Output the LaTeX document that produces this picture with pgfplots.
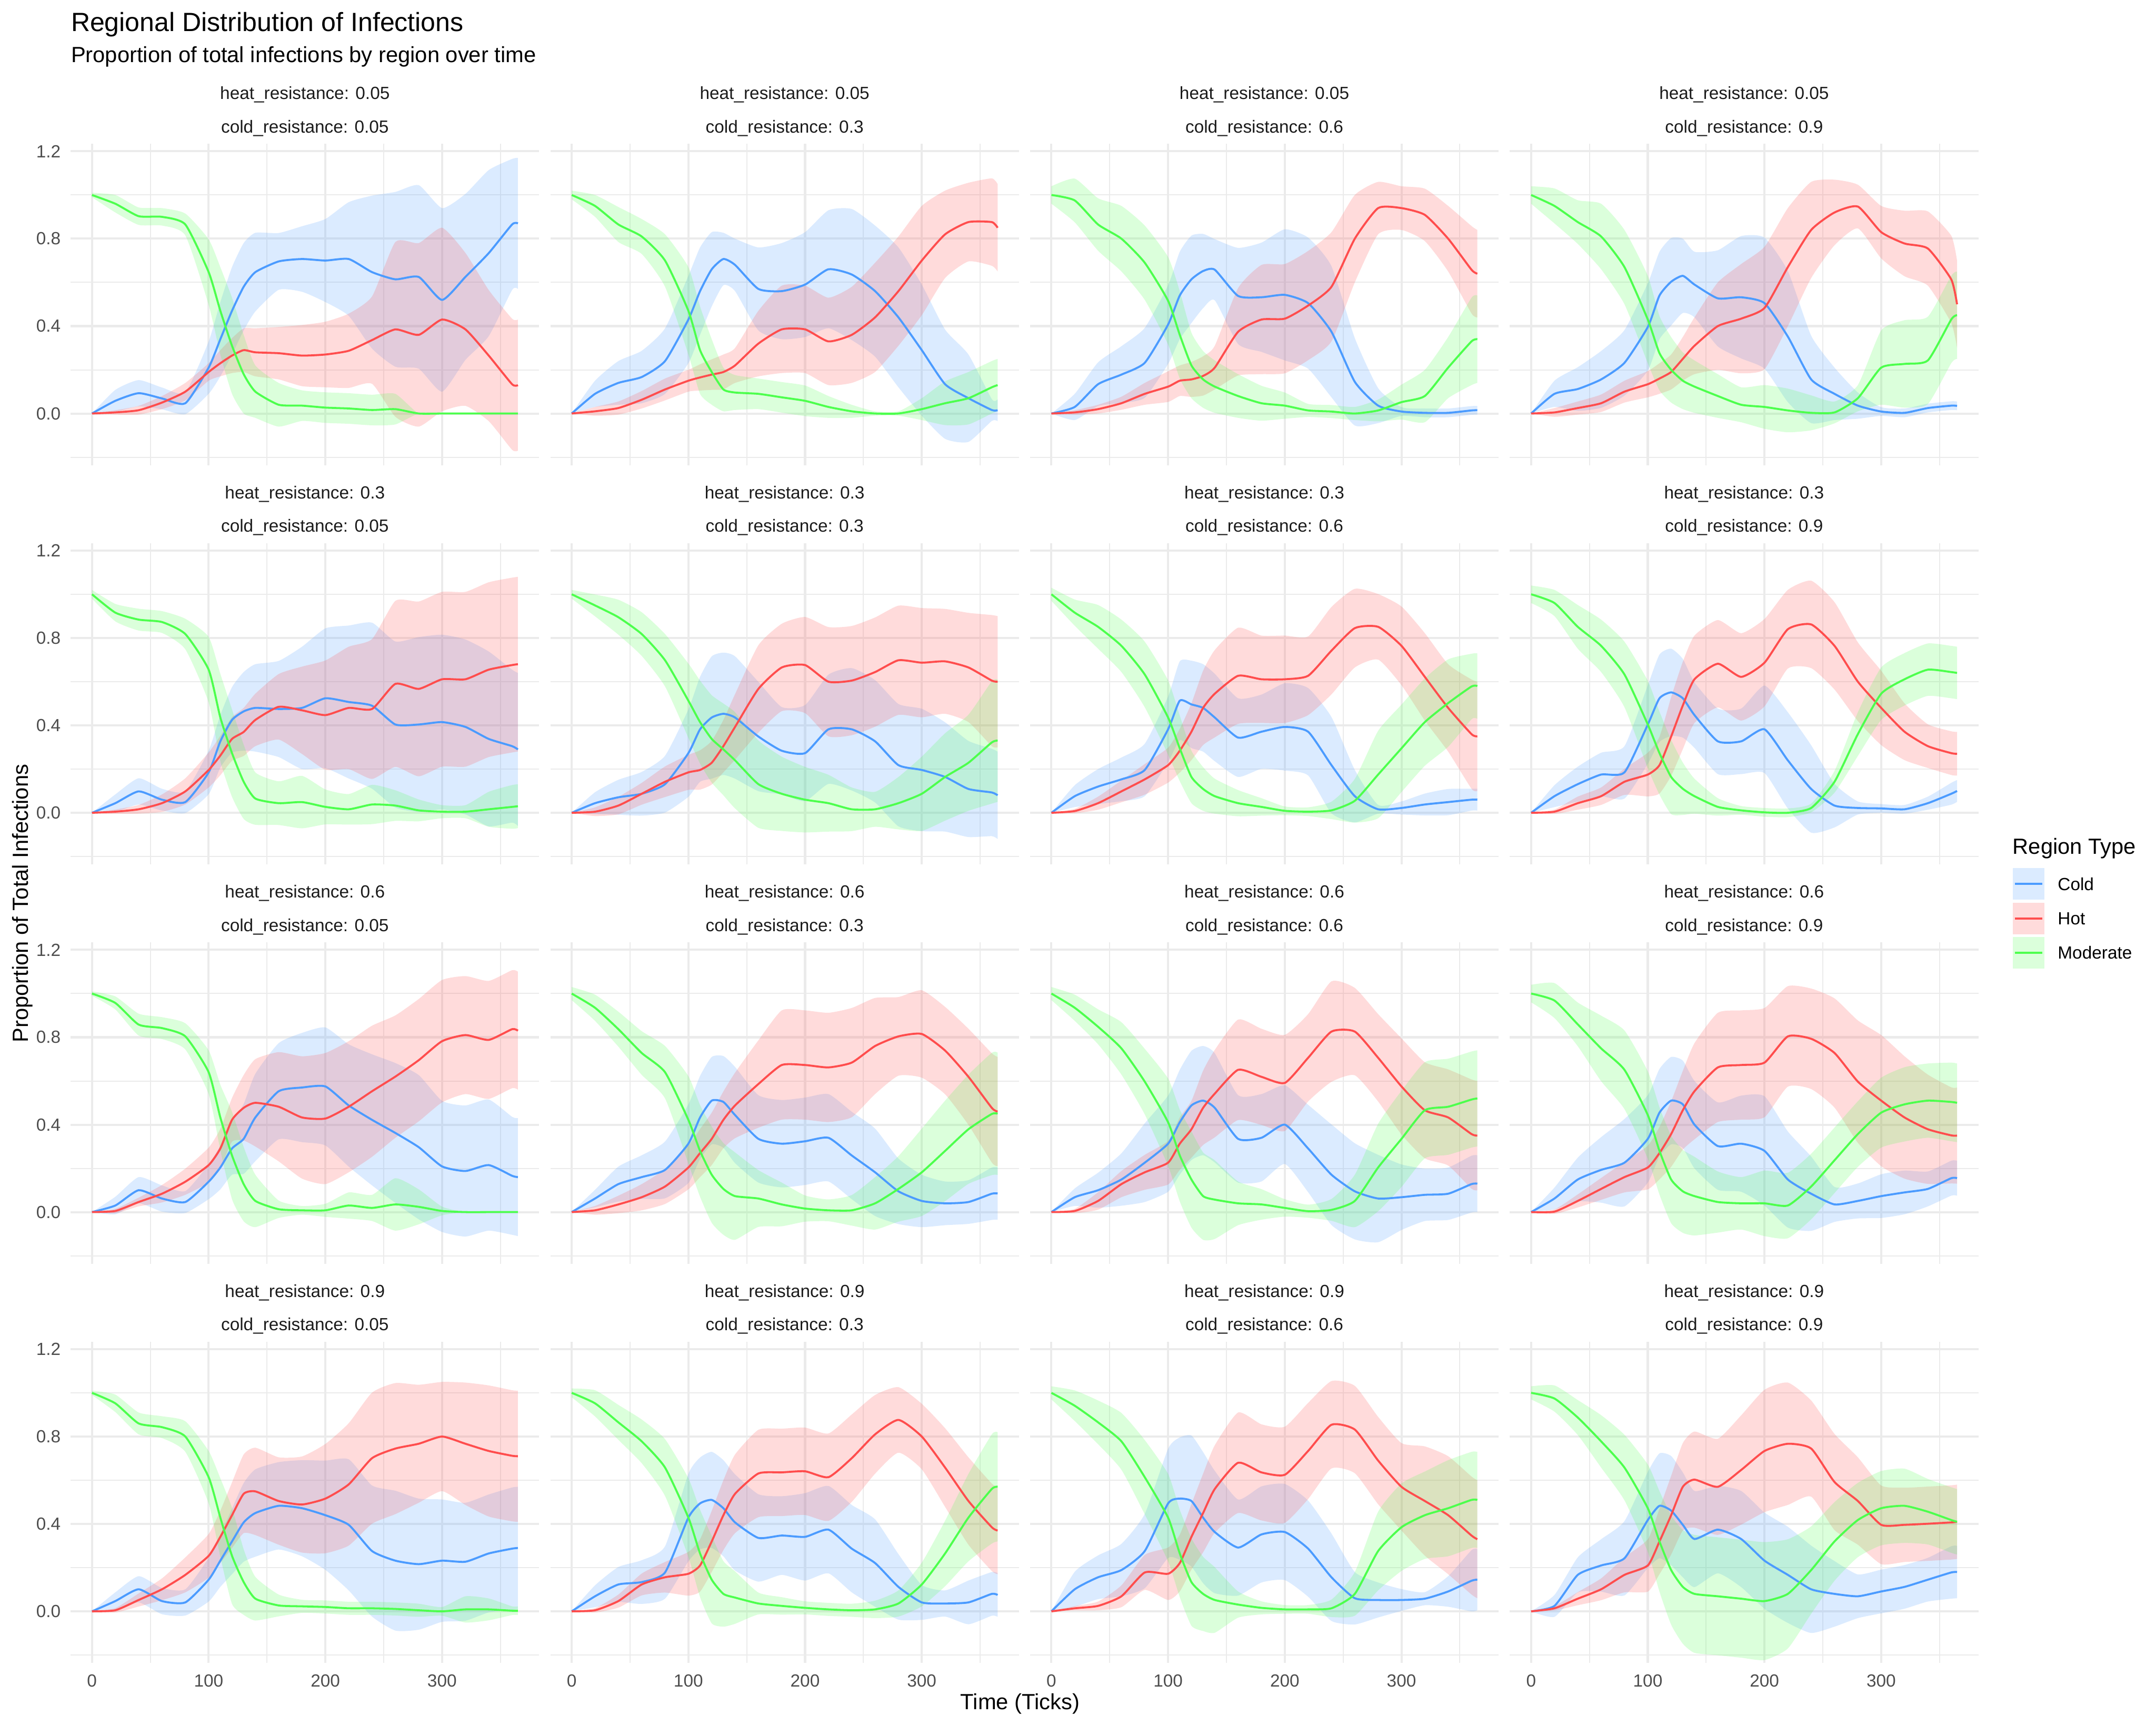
\documentclass[border=0pt]{standalone}
\usepackage{fontspec}
\setmainfont{Liberation Sans}
\usepackage{pgfplots}
\pgfplotsset{compat=1.18}
\usepackage{pgfplotstable}
\usepgfplotslibrary{fillbetween}

\definecolor{cold}{HTML}{4B9BFF}
\definecolor{hot}{HTML}{FF4D4D}
\definecolor{moderate}{HTML}{4DFF4D}
\definecolor{gridc}{HTML}{EBEBEB}
\definecolor{tickc}{HTML}{4D4D4D}
\definecolor{stripc}{HTML}{1A1A1A}

% columns: t, Cold mean, Cold half-width, Hot mean, Hot half-width, Moderate mean, Moderate half-width
\pgfplotstableread{
t c cs h hs m ms
0 0 0 0 0 1 0.01
20 0.058 0.05 0.005 0.01 0.96 0.04
40 0.093 0.06 0.015 0.02 0.903 0.04
60 0.069 0.05 0.05 0.03 0.9 0.04
80 0.047 0.05 0.1 0.04 0.865 0.05
100 0.21 0.12 0.19 0.04 0.647 0.15
110 0.34 0.17 0.23 0.06 0.47 0.2
120 0.47 0.2 0.265 0.08 0.31 0.22
130 0.58 0.2 0.29 0.1 0.18 0.18
140 0.647 0.18 0.28 0.11 0.1 0.12
160 0.696 0.13 0.276 0.12 0.04 0.1
180 0.707 0.15 0.265 0.14 0.036 0.07
200 0.7 0.19 0.27 0.15 0.027 0.07
220 0.707 0.26 0.287 0.17 0.023 0.07
240 0.647 0.35 0.336 0.2 0.016 0.07
260 0.614 0.4 0.385 0.4 0.02 0.07
280 0.625 0.42 0.36 0.42 0 0
300 0.52 0.42 0.43 0.42 0 0
320 0.625 0.38 0.385 0.35 0 0
340 0.734 0.38 0.265 0.3 0 0
360 0.865 0.3 0.134 0.3 0 0
365 0.87 0.3 0.13 0.3 0 0
}\tAA
\pgfplotstableread{
t c cs h hs m ms
0 0 0 0 0 1 0.02
20 0.09 0.06 0.01 0.02 0.95 0.05
40 0.14 0.1 0.025 0.03 0.865 0.08
60 0.167 0.12 0.063 0.04 0.81 0.08
80 0.24 0.15 0.11 0.05 0.7 0.12
100 0.43 0.2 0.15 0.05 0.47 0.2
110 0.56 0.2 0.165 0.06 0.29 0.2
120 0.66 0.17 0.178 0.07 0.19 0.15
130 0.707 0.12 0.19 0.08 0.11 0.1
140 0.68 0.12 0.22 0.08 0.096 0.08
160 0.57 0.19 0.32 0.15 0.09 0.07
180 0.56 0.22 0.385 0.2 0.074 0.07
200 0.59 0.24 0.385 0.2 0.058 0.07
220 0.66 0.27 0.33 0.2 0.03 0.05
240 0.636 0.3 0.36 0.22 0.01 0.03
260 0.56 0.3 0.44 0.25 0 0.01
280 0.44 0.32 0.56 0.25 0 0.01
300 0.29 0.3 0.7 0.25 0.02 0.05
320 0.134 0.25 0.82 0.2 0.047 0.1
340 0.07 0.2 0.876 0.18 0.07 0.12
360 0.016 0.05 0.876 0.2 0.12 0.12
365 0.015 0.05 0.85 0.2 0.13 0.12
}\tAB
\pgfplotstableread{
t c cs h hs m ms
0 0 0 0 0 1 0.04
20 0.03 0.06 0.005 0.01 0.975 0.1
40 0.134 0.1 0.02 0.02 0.865 0.12
60 0.178 0.13 0.047 0.03 0.8 0.15
80 0.232 0.16 0.09 0.05 0.69 0.17
100 0.407 0.18 0.123 0.07 0.516 0.2
110 0.54 0.2 0.15 0.07 0.36 0.2
120 0.614 0.2 0.156 0.08 0.22 0.15
130 0.652 0.17 0.172 0.09 0.156 0.13
140 0.658 0.14 0.21 0.1 0.123 0.12
160 0.538 0.22 0.374 0.2 0.08 0.1
180 0.532 0.25 0.43 0.25 0.047 0.08
200 0.543 0.3 0.434 0.25 0.036 0.06
220 0.505 0.3 0.494 0.25 0.014 0.03
240 0.374 0.3 0.58 0.25 0.009 0.03
260 0.145 0.2 0.8 0.2 0 0.03
280 0.036 0.08 0.94 0.12 0.014 0.05
300 0.009 0.02 0.94 0.1 0.052 0.08
320 0.003 0.02 0.909 0.12 0.08 0.12
340 0.003 0.02 0.8 0.15 0.21 0.14
360 0.014 0.02 0.658 0.2 0.33 0.2
365 0.015 0.02 0.64 0.2 0.34 0.2
}\tAC
\pgfplotstableread{
t c cs h hs m ms
0 0 0 0 0 1 0.04
20 0.09 0.06 0.005 0.02 0.95 0.08
40 0.112 0.1 0.025 0.03 0.876 0.1
60 0.156 0.13 0.047 0.04 0.81 0.15
80 0.232 0.15 0.1 0.05 0.67 0.17
100 0.396 0.2 0.134 0.06 0.43 0.2
110 0.54 0.2 0.16 0.07 0.276 0.17
120 0.603 0.2 0.19 0.08 0.2 0.15
130 0.63 0.17 0.25 0.1 0.15 0.13
140 0.59 0.15 0.31 0.13 0.123 0.12
160 0.527 0.22 0.4 0.2 0.08 0.1
180 0.532 0.28 0.434 0.25 0.04 0.08
200 0.505 0.3 0.483 0.28 0.03 0.1
220 0.352 0.3 0.67 0.27 0.014 0.1
240 0.156 0.2 0.84 0.22 0.003 0.08
260 0.09 0.12 0.92 0.15 0.005 0.05
280 0.036 0.06 0.947 0.1 0.07 0.06
300 0.009 0.02 0.83 0.12 0.21 0.17
320 0.003 0.02 0.778 0.15 0.227 0.2
340 0.025 0.02 0.755 0.17 0.243 0.2
360 0.036 0.02 0.614 0.2 0.43 0.2
365 0.035 0.02 0.5 0.2 0.45 0.2
}\tAD
\pgfplotstableread{
t c cs h hs m ms
0 0 0 0 0 1 0.02
20 0.044 0.04 0.005 0.01 0.916 0.04
40 0.098 0.06 0.016 0.02 0.884 0.05
60 0.06 0.05 0.044 0.04 0.873 0.05
80 0.049 0.05 0.098 0.06 0.818 0.07
100 0.185 0.1 0.196 0.08 0.655 0.15
110 0.327 0.12 0.262 0.09 0.436 0.2
120 0.425 0.15 0.338 0.1 0.273 0.2
130 0.464 0.18 0.37 0.11 0.142 0.17
140 0.48 0.2 0.425 0.12 0.065 0.12
160 0.475 0.22 0.485 0.15 0.044 0.1
180 0.48 0.28 0.469 0.2 0.049 0.12
200 0.524 0.32 0.447 0.25 0.027 0.08
220 0.507 0.35 0.48 0.28 0.016 0.07
240 0.49 0.38 0.475 0.32 0.038 0.09
260 0.404 0.38 0.59 0.38 0.033 0.07
280 0.404 0.4 0.567 0.4 0.011 0.05
300 0.415 0.4 0.611 0.4 0.005 0.03
320 0.393 0.4 0.611 0.4 0.005 0.03
340 0.338 0.4 0.655 0.4 0.016 0.08
360 0.305 0.35 0.676 0.4 0.027 0.1
365 0.29 0.35 0.68 0.4 0.03 0.1
}\tBA
\pgfplotstableread{
t c cs h hs m ms
0 0 0 0 0 1 0.02
20 0.044 0.05 0.005 0.02 0.949 0.05
40 0.071 0.08 0.033 0.04 0.895 0.08
60 0.087 0.1 0.087 0.05 0.818 0.1
80 0.131 0.13 0.142 0.07 0.698 0.12
100 0.273 0.2 0.185 0.08 0.513 0.17
110 0.382 0.24 0.196 0.09 0.415 0.19
120 0.436 0.28 0.229 0.1 0.338 0.2
130 0.453 0.28 0.305 0.12 0.29 0.21
140 0.436 0.28 0.393 0.15 0.24 0.22
160 0.349 0.25 0.567 0.2 0.131 0.2
180 0.284 0.2 0.665 0.2 0.087 0.17
200 0.273 0.22 0.676 0.22 0.06 0.15
220 0.382 0.25 0.6 0.25 0.044 0.13
240 0.382 0.28 0.605 0.25 0.016 0.1
260 0.327 0.28 0.644 0.25 0.016 0.08
280 0.218 0.28 0.698 0.25 0.044 0.12
300 0.196 0.28 0.687 0.25 0.087 0.17
320 0.164 0.25 0.693 0.24 0.164 0.2
340 0.109 0.22 0.665 0.25 0.229 0.22
360 0.093 0.2 0.605 0.3 0.322 0.28
365 0.08 0.2 0.6 0.3 0.33 0.28
}\tBB
\pgfplotstableread{
t c cs h hs m ms
0 0 0 0 0 1 0.03
20 0.076 0.05 0.008 0.01 0.916 0.06
40 0.12 0.08 0.044 0.03 0.851 0.1
60 0.153 0.1 0.098 0.05 0.764 0.12
80 0.196 0.12 0.153 0.07 0.633 0.15
100 0.382 0.15 0.218 0.08 0.436 0.17
110 0.513 0.18 0.284 0.1 0.295 0.15
120 0.496 0.2 0.371 0.13 0.164 0.12
130 0.48 0.2 0.48 0.17 0.109 0.1
140 0.436 0.2 0.545 0.2 0.076 0.08
160 0.344 0.18 0.627 0.22 0.044 0.06
180 0.371 0.17 0.611 0.2 0.027 0.04
200 0.393 0.2 0.611 0.2 0.009 0.02
220 0.371 0.2 0.627 0.18 0.005 0.02
240 0.218 0.22 0.742 0.2 0.011 0.04
260 0.076 0.12 0.845 0.18 0.055 0.1
280 0.016 0.02 0.851 0.15 0.175 0.2
300 0.022 0.03 0.764 0.18 0.295 0.2
320 0.038 0.05 0.622 0.2 0.415 0.2
340 0.049 0.06 0.48 0.2 0.502 0.2
360 0.06 0.05 0.36 0.25 0.578 0.15
365 0.06 0.05 0.35 0.25 0.58 0.15
}\tBC
\pgfplotstableread{
t c cs h hs m ms
0 0 0 0 0 1 0.04
20 0.076 0.05 0.005 0.01 0.96 0.06
40 0.131 0.08 0.044 0.03 0.851 0.1
60 0.175 0.1 0.076 0.04 0.764 0.12
80 0.185 0.12 0.142 0.06 0.633 0.15
100 0.404 0.18 0.175 0.1 0.404 0.2
110 0.524 0.2 0.218 0.13 0.273 0.19
120 0.551 0.2 0.349 0.18 0.164 0.17
130 0.524 0.18 0.491 0.2 0.11 0.12
140 0.447 0.15 0.611 0.2 0.076 0.08
160 0.327 0.15 0.682 0.2 0.027 0.04
180 0.327 0.15 0.622 0.2 0.011 0.02
200 0.382 0.2 0.687 0.2 0.002 0.02
220 0.24 0.22 0.84 0.18 0 0.02
240 0.109 0.2 0.862 0.2 0.022 0.02
260 0.033 0.1 0.764 0.2 0.142 0.05
280 0.022 0.03 0.6 0.18 0.36 0.1
300 0.02 0.02 0.48 0.17 0.545 0.12
320 0.016 0.02 0.371 0.13 0.611 0.12
340 0.044 0.03 0.305 0.1 0.655 0.12
360 0.087 0.05 0.273 0.1 0.644 0.12
365 0.1 0.05 0.27 0.1 0.64 0.12
}\tBD
\pgfplotstableread{
t c cs h hs m ms
0 0 0 0 0 1 0.01
20 0.03 0.04 0.005 0.01 0.957 0.03
40 0.1 0.06 0.046 0.02 0.858 0.05
60 0.062 0.06 0.084 0.04 0.842 0.05
80 0.046 0.05 0.139 0.06 0.804 0.06
100 0.139 0.08 0.215 0.08 0.64 0.1
110 0.204 0.1 0.291 0.09 0.433 0.15
120 0.291 0.12 0.422 0.1 0.259 0.2
130 0.335 0.16 0.477 0.15 0.128 0.17
140 0.433 0.2 0.5 0.2 0.051 0.12
160 0.553 0.22 0.482 0.25 0.013 0.04
180 0.57 0.25 0.433 0.28 0.008 0.02
200 0.575 0.27 0.428 0.3 0.008 0.03
220 0.488 0.28 0.482 0.3 0.03 0.06
240 0.422 0.3 0.553 0.3 0.019 0.06
260 0.362 0.32 0.62 0.28 0.035 0.12
280 0.297 0.33 0.695 0.28 0.024 0.08
300 0.209 0.3 0.782 0.28 0.005 0.02
320 0.188 0.3 0.81 0.27 0 0
340 0.215 0.3 0.788 0.27 0 0
360 0.166 0.27 0.837 0.27 0 0
365 0.16 0.27 0.83 0.27 0 0
}\tCA
\pgfplotstableread{
t c cs h hs m ms
0 0 0 0 0 1 0.03
20 0.062 0.04 0.008 0.02 0.935 0.06
40 0.128 0.08 0.035 0.04 0.837 0.08
60 0.16 0.1 0.068 0.06 0.728 0.1
80 0.193 0.13 0.117 0.08 0.64 0.12
100 0.313 0.18 0.204 0.1 0.422 0.2
110 0.433 0.19 0.27 0.11 0.28 0.21
120 0.51 0.2 0.335 0.12 0.171 0.22
130 0.504 0.21 0.422 0.13 0.106 0.21
140 0.444 0.22 0.488 0.15 0.073 0.2
160 0.335 0.2 0.586 0.2 0.062 0.13
180 0.313 0.2 0.673 0.25 0.035 0.1
200 0.324 0.2 0.673 0.25 0.016 0.06
220 0.34 0.2 0.662 0.25 0.008 0.05
240 0.259 0.2 0.684 0.25 0.008 0.07
260 0.182 0.2 0.76 0.22 0.04 0.12
280 0.095 0.15 0.804 0.18 0.106 0.15
300 0.051 0.12 0.815 0.2 0.182 0.2
320 0.04 0.1 0.739 0.2 0.28 0.23
340 0.046 0.1 0.619 0.22 0.379 0.25
360 0.084 0.12 0.477 0.25 0.449 0.28
365 0.085 0.12 0.46 0.25 0.45 0.28
}\tCB
\pgfplotstableread{
t c cs h hs m ms
0 0 0 0 0 1 0.03
20 0.068 0.04 0.005 0.01 0.935 0.06
40 0.1 0.08 0.051 0.04 0.848 0.08
60 0.149 0.12 0.128 0.06 0.749 0.12
80 0.226 0.18 0.182 0.08 0.597 0.15
100 0.313 0.22 0.226 0.1 0.411 0.2
110 0.411 0.24 0.313 0.12 0.259 0.21
120 0.488 0.25 0.379 0.13 0.149 0.22
130 0.51 0.25 0.477 0.17 0.073 0.2
140 0.477 0.25 0.542 0.2 0.057 0.18
160 0.335 0.2 0.651 0.23 0.04 0.1
180 0.34 0.2 0.619 0.22 0.035 0.07
200 0.4 0.18 0.591 0.22 0.019 0.04
220 0.291 0.2 0.706 0.2 0.004 0.03
240 0.171 0.23 0.826 0.23 0.01 0.05
260 0.095 0.22 0.826 0.2 0.051 0.12
280 0.062 0.2 0.706 0.2 0.204 0.2
300 0.068 0.15 0.575 0.22 0.335 0.22
320 0.079 0.12 0.466 0.22 0.466 0.22
340 0.084 0.12 0.433 0.22 0.482 0.22
360 0.128 0.13 0.357 0.25 0.515 0.22
365 0.13 0.13 0.35 0.25 0.52 0.22
}\tCC
\pgfplotstableread{
t c cs h hs m ms
0 0 0 0 0 1 0.04
20 0.062 0.05 0.002 0.01 0.968 0.08
40 0.149 0.1 0.051 0.03 0.859 0.1
60 0.193 0.15 0.106 0.05 0.749 0.15
80 0.226 0.2 0.16 0.07 0.651 0.18
100 0.335 0.2 0.204 0.1 0.444 0.2
110 0.455 0.2 0.27 0.12 0.28 0.2
120 0.51 0.2 0.357 0.15 0.149 0.2
130 0.493 0.2 0.466 0.18 0.095 0.19
140 0.4 0.2 0.553 0.22 0.073 0.18
160 0.302 0.2 0.662 0.25 0.046 0.14
180 0.313 0.22 0.673 0.25 0.04 0.12
200 0.28 0.25 0.684 0.25 0.04 0.15
220 0.149 0.22 0.804 0.23 0.03 0.15
240 0.084 0.17 0.793 0.23 0.117 0.15
260 0.035 0.08 0.728 0.25 0.237 0.15
280 0.051 0.08 0.597 0.28 0.357 0.15
300 0.073 0.1 0.51 0.3 0.455 0.16
320 0.09 0.1 0.433 0.28 0.493 0.17
340 0.106 0.08 0.379 0.25 0.51 0.17
360 0.155 0.08 0.351 0.22 0.504 0.18
365 0.155 0.08 0.35 0.22 0.5 0.18
}\tCD
\pgfplotstableread{
t c cs h hs m ms
0 0 0 0 0 1 0.01
20 0.047 0.04 0.005 0.01 0.952 0.04
40 0.101 0.06 0.052 0.03 0.86 0.05
60 0.047 0.06 0.101 0.05 0.843 0.05
80 0.041 0.06 0.167 0.08 0.8 0.07
100 0.145 0.1 0.254 0.1 0.614 0.12
110 0.232 0.12 0.341 0.12 0.429 0.18
120 0.32 0.15 0.44 0.15 0.254 0.22
130 0.407 0.18 0.538 0.18 0.134 0.15
140 0.45 0.2 0.549 0.2 0.058 0.1
160 0.483 0.2 0.505 0.2 0.027 0.05
180 0.472 0.22 0.489 0.22 0.023 0.03
200 0.44 0.25 0.516 0.25 0.02 0.03
220 0.396 0.3 0.581 0.28 0.014 0.03
240 0.276 0.3 0.701 0.3 0.014 0.03
260 0.232 0.32 0.745 0.3 0.011 0.03
280 0.216 0.3 0.767 0.27 0.005 0.03
300 0.232 0.28 0.8 0.25 0 0.02
320 0.227 0.27 0.767 0.28 0.009 0.06
340 0.265 0.27 0.734 0.3 0.009 0.05
360 0.287 0.28 0.712 0.3 0.003 0.02
365 0.29 0.28 0.71 0.3 0.003 0.02
}\tDA
\pgfplotstableread{
t c cs h hs m ms
0 0 0 0 0 1 0.02
20 0.069 0.05 0.005 0.01 0.952 0.06
40 0.123 0.08 0.047 0.03 0.865 0.08
60 0.134 0.1 0.123 0.05 0.778 0.1
80 0.178 0.12 0.156 0.07 0.658 0.13
100 0.429 0.2 0.172 0.1 0.429 0.18
110 0.494 0.21 0.21 0.12 0.265 0.2
120 0.51 0.22 0.32 0.14 0.145 0.2
130 0.472 0.22 0.44 0.16 0.08 0.15
140 0.407 0.22 0.538 0.18 0.063 0.12
160 0.336 0.2 0.631 0.2 0.036 0.05
180 0.347 0.18 0.636 0.2 0.025 0.04
200 0.341 0.2 0.641 0.2 0.016 0.03
220 0.374 0.2 0.614 0.2 0.009 0.03
240 0.287 0.2 0.701 0.2 0.005 0.03
260 0.221 0.2 0.81 0.18 0.009 0.04
280 0.112 0.15 0.876 0.15 0.036 0.06
300 0.041 0.08 0.8 0.15 0.123 0.1
320 0.036 0.06 0.658 0.18 0.265 0.15
340 0.041 0.1 0.505 0.2 0.429 0.2
360 0.08 0.1 0.385 0.2 0.56 0.25
365 0.075 0.1 0.37 0.2 0.57 0.25
}\tDB
\pgfplotstableread{
t c cs h hs m ms
0 0 0 0 0 1 0.03
20 0.101 0.08 0.014 0.01 0.941 0.07
40 0.156 0.1 0.025 0.02 0.865 0.1
60 0.189 0.12 0.069 0.05 0.778 0.13
80 0.276 0.17 0.178 0.08 0.614 0.17
100 0.494 0.25 0.172 0.12 0.429 0.2
110 0.516 0.28 0.221 0.13 0.265 0.2
120 0.505 0.3 0.341 0.15 0.134 0.2
130 0.429 0.3 0.45 0.18 0.08 0.17
140 0.363 0.28 0.56 0.2 0.052 0.15
160 0.292 0.22 0.68 0.23 0.031 0.06
180 0.352 0.22 0.636 0.22 0.016 0.03
200 0.363 0.22 0.625 0.22 0.009 0.02
220 0.287 0.22 0.734 0.22 0.009 0.02
240 0.156 0.2 0.854 0.2 0.014 0.04
260 0.06 0.12 0.832 0.2 0.08 0.1
280 0.052 0.08 0.69 0.2 0.276 0.18
300 0.052 0.05 0.57 0.2 0.385 0.2
320 0.058 0.03 0.505 0.25 0.44 0.2
340 0.091 0.07 0.44 0.27 0.472 0.22
360 0.14 0.14 0.347 0.27 0.51 0.22
365 0.145 0.14 0.33 0.27 0.51 0.22
}\tDC
\pgfplotstableread{
t c cs h hs m ms
0 0 0 0 0 1 0.03
20 0.025 0.05 0.014 0.01 0.974 0.06
40 0.167 0.08 0.058 0.03 0.887 0.08
60 0.21 0.12 0.101 0.05 0.778 0.12
80 0.243 0.17 0.167 0.08 0.658 0.15
100 0.418 0.22 0.21 0.12 0.472 0.2
110 0.483 0.24 0.32 0.15 0.32 0.23
120 0.461 0.25 0.44 0.18 0.189 0.25
130 0.396 0.24 0.57 0.2 0.112 0.26
140 0.331 0.22 0.603 0.22 0.08 0.27
160 0.374 0.2 0.57 0.22 0.069 0.27
180 0.331 0.22 0.647 0.25 0.058 0.27
200 0.232 0.22 0.734 0.28 0.047 0.27
220 0.167 0.22 0.767 0.28 0.08 0.25
240 0.101 0.2 0.745 0.22 0.189 0.2
260 0.08 0.15 0.592 0.22 0.32 0.18
280 0.069 0.1 0.505 0.2 0.418 0.17
300 0.091 0.1 0.396 0.18 0.472 0.17
320 0.112 0.1 0.396 0.17 0.483 0.17
340 0.145 0.1 0.401 0.17 0.456 0.15
360 0.178 0.12 0.407 0.17 0.418 0.15
365 0.18 0.12 0.41 0.17 0.41 0.15
}\tDD

\pgfplotsset{panel/.style={
  width=234.7pt, height=160.9pt, scale only axis, anchor=north west,
  xmin=-18.25, xmax=383.25, ymin=-0.236, ymax=1.234,
  xtick={0,100,200,300}, ytick={0,0.4,0.8,1.2},
  minor xtick={50,150,250,350}, minor ytick={-0.2,0.2,0.6,1.0},
  grid=both,
  major grid style={draw=gridc, line width=1.07pt},
  minor grid style={draw=gridc, line width=0.53pt},
  axis line style={draw=none},
  major tick length=0pt, minor tick length=0pt,
  ticklabel style={font=\fontsize{8.8}{10}\selectfont, text=tickc},
  xticklabel style={yshift=-2.4pt},
  yticklabel style={xshift=-1.5pt},
}}

\newcommand\panel[6]{%
\begin{axis}[panel, at={(#1pt,#2pt)}, #6]
  \addplot[name path=cu, draw=none, smooth, tension=0.35] table[x=t, y expr=\thisrow{c}+\thisrow{cs}] {#3};
  \addplot[name path=cl, draw=none, smooth, tension=0.35] table[x=t, y expr=\thisrow{c}-\thisrow{cs}] {#3};
  \addplot[fill=cold, fill opacity=0.2, draw=none] fill between[of=cu and cl];
  \addplot[name path=hu, draw=none, smooth, tension=0.35] table[x=t, y expr=\thisrow{h}+\thisrow{hs}] {#3};
  \addplot[name path=hl, draw=none, smooth, tension=0.35] table[x=t, y expr=\thisrow{h}-\thisrow{hs}] {#3};
  \addplot[fill=hot, fill opacity=0.2, draw=none] fill between[of=hu and hl];
  \addplot[name path=mu, draw=none, smooth, tension=0.35] table[x=t, y expr=\thisrow{m}+\thisrow{ms}] {#3};
  \addplot[name path=ml, draw=none, smooth, tension=0.35] table[x=t, y expr=\thisrow{m}-\thisrow{ms}] {#3};
  \addplot[fill=moderate, fill opacity=0.2, draw=none] fill between[of=mu and ml];
  \addplot[cold, line width=1pt, line join=round, smooth, tension=0.35] table[x=t, y=c] {#3};
  \addplot[hot, line width=1pt, line join=round, smooth, tension=0.35] table[x=t, y=h] {#3};
  \addplot[moderate, line width=1pt, line join=round, smooth, tension=0.35] table[x=t, y=m] {#3};
\end{axis}
\node[anchor=base, font=\fontsize{8.8}{10}\selectfont, text=stripc] at ({#1pt+117.35pt},{#2pt+22.3pt}) {heat\_resistance: #4};
\node[anchor=base, font=\fontsize{8.8}{10}\selectfont, text=stripc] at ({#1pt+117.35pt},{#2pt+5.6pt}) {cold\_resistance: #5};
}

\begin{document}
\begin{tikzpicture}
% row 1
\panel{35.4}{791.93}{\tAA}{0.05}{0.05}{yticklabels={0.0,0.4,0.8,1.2}, xticklabels={,,,}}
\panel{275.7}{791.93}{\tAB}{0.05}{0.3}{yticklabels={,,,}, xticklabels={,,,}}
\panel{516.0}{791.93}{\tAC}{0.05}{0.6}{yticklabels={,,,}, xticklabels={,,,}}
\panel{756.3}{791.93}{\tAD}{0.05}{0.9}{yticklabels={,,,}, xticklabels={,,,}}
% row 2
\panel{35.4}{591.93}{\tBA}{0.3}{0.05}{yticklabels={0.0,0.4,0.8,1.2}, xticklabels={,,,}}
\panel{275.7}{591.93}{\tBB}{0.3}{0.3}{yticklabels={,,,}, xticklabels={,,,}}
\panel{516.0}{591.93}{\tBC}{0.3}{0.6}{yticklabels={,,,}, xticklabels={,,,}}
\panel{756.3}{591.93}{\tBD}{0.3}{0.9}{yticklabels={,,,}, xticklabels={,,,}}
% row 3
\panel{35.4}{391.93}{\tCA}{0.6}{0.05}{yticklabels={0.0,0.4,0.8,1.2}, xticklabels={,,,}}
\panel{275.7}{391.93}{\tCB}{0.6}{0.3}{yticklabels={,,,}, xticklabels={,,,}}
\panel{516.0}{391.93}{\tCC}{0.6}{0.6}{yticklabels={,,,}, xticklabels={,,,}}
\panel{756.3}{391.93}{\tCD}{0.6}{0.9}{yticklabels={,,,}, xticklabels={,,,}}
% row 4
\panel{35.4}{191.93}{\tDA}{0.9}{0.05}{yticklabels={0.0,0.4,0.8,1.2}, xticklabels={0,100,200,300}}
\panel{275.7}{191.93}{\tDB}{0.9}{0.3}{yticklabels={,,,}, xticklabels={0,100,200,300}}
\panel{516.0}{191.93}{\tDC}{0.9}{0.6}{yticklabels={,,,}, xticklabels={0,100,200,300}}
\panel{756.3}{191.93}{\tDD}{0.9}{0.9}{yticklabels={,,,}, xticklabels={0,100,200,300}}

% titles
\node[anchor=base west, font=\fontsize{13.2}{15}\selectfont, inner sep=0pt] at (35.4pt,848.3pt) {Regional Distribution of Infections};
\node[anchor=base west, font=\fontsize{11}{13}\selectfont, inner sep=0pt] at (35.4pt,832.8pt) {Proportion of total infections by region over time};
\node[anchor=base, font=\fontsize{11}{13}\selectfont, inner sep=0pt] at (511pt,7.8pt) {Time (Ticks)};
\node[anchor=base, rotate=90, font=\fontsize{11}{13}\selectfont, inner sep=0pt] at (14.2pt,411.5pt) {Proportion of Total Infections};

% legend
\node[anchor=base west, font=\fontsize{11}{13}\selectfont, inner sep=0pt] at (1008pt,436.3pt) {Region Type};
\fill[cold!20!white] (1008.2pt,429.1pt) rectangle (1024pt,413.4pt);
\draw[cold, line width=1pt] (1009.2pt,421.25pt) -- (1023pt,421.25pt);
\node[anchor=west, font=\fontsize{8.8}{10}\selectfont, inner sep=0pt] at (1030.6pt,421.25pt) {Cold};
\fill[hot!20!white] (1008.2pt,411.8pt) rectangle (1024pt,396.1pt);
\draw[hot, line width=1pt] (1009.2pt,403.95pt) -- (1023pt,403.95pt);
\node[anchor=west, font=\fontsize{8.8}{10}\selectfont, inner sep=0pt] at (1030.6pt,403.95pt) {Hot};
\fill[moderate!20!white] (1008.2pt,394.6pt) rectangle (1024pt,378.9pt);
\draw[moderate, line width=1pt] (1009.2pt,386.75pt) -- (1023pt,386.75pt);
\node[anchor=west, font=\fontsize{8.8}{10}\selectfont, inner sep=0pt] at (1030.6pt,386.75pt) {Moderate};

\pgfresetboundingbox
\path[use as bounding box] (0pt,0pt) rectangle (1080pt,864pt);
\end{tikzpicture}
\end{document}
